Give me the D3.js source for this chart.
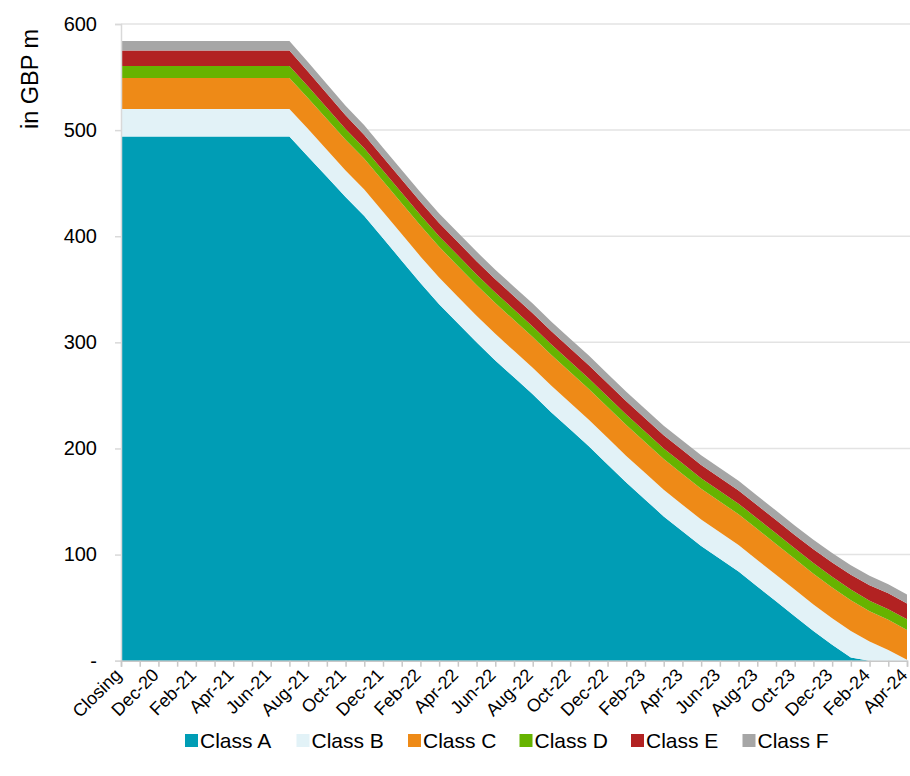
<!DOCTYPE html>
<html>
<head>
<meta charset="utf-8">
<script src="https://cdnjs.cloudflare.com/ajax/libs/d3/7.8.5/d3.min.js"></script>
<style>
  body { margin: 0; background: #fff; }
  text { font-family: "Liberation Sans", Arial, sans-serif; fill: #000; }
</style>
</head>
<body>
<svg id="chart" width="910" height="776"></svg>
<script>
////////////////////////////////////////////////////////////
// DATA
////////////////////////////////////////////////////////////
var categories = ['Closing', 'Nov-20', 'Dec-20', 'Jan-21', 'Feb-21', 'Mar-21', 'Apr-21', 'May-21',
  'Jun-21', 'Jul-21', 'Aug-21', 'Sep-21', 'Oct-21', 'Nov-21', 'Dec-21', 'Jan-22', 'Feb-22',
  'Mar-22', 'Apr-22', 'May-22', 'Jun-22', 'Jul-22', 'Aug-22', 'Sep-22', 'Oct-22', 'Nov-22',
  'Dec-22', 'Jan-23', 'Feb-23', 'Mar-23', 'Apr-23', 'May-23', 'Jun-23', 'Jul-23', 'Aug-23',
  'Sep-23', 'Oct-23', 'Nov-23', 'Dec-23', 'Jan-24', 'Feb-24', 'Mar-24', 'Apr-24'];

var classA = [494, 494, 494, 494, 494, 494, 494, 494, 494, 494,
  475, 456, 437, 419, 398, 377, 356, 336, 318, 300, 283, 267, 251, 234, 218, 202,
  185, 168, 152, 136, 122, 108, 96, 84, 70, 56, 42, 28, 15, 3, 0, 0, 0];
var classB = [26, 26, 26, 26, 26, 26, 26, 26, 26, 26,
  26, 25.5, 25, 25, 25, 25, 25, 25, 25, 25, 25, 25, 25, 25, 25, 25,
  25, 25, 25, 25, 25, 25, 25, 25, 25, 25, 25, 25, 25, 25, 18, 10, 1];
var classC = [29, 29, 29, 29, 29, 29, 29, 29, 29, 29,
  29, 29, 29, 29, 29, 29, 29, 29, 29, 29, 29, 29, 29, 29, 29, 29,
  29, 29, 29, 29, 29, 29, 29, 29, 29, 29, 29, 29, 29, 29, 28.5, 28.5, 28];
var classD = [11.5, 11.5, 11.5, 11.5, 11.5, 11.5, 11.5, 11.5, 11.5, 11.5,
  11, 10.5, 10, 10, 10, 10, 10, 10, 10, 10, 10, 10, 10, 10, 10, 10,
  10, 10, 10, 10, 10, 10, 10, 10, 10, 10, 10, 10, 10, 10, 10, 10, 10];
var classE = [14.5, 14.5, 14.5, 14.5, 14.5, 14.5, 14.5, 14.5, 14.5, 14.5,
  14, 13.5, 13, 12.5, 12.5, 12.5, 12.5, 12.5, 12.5, 12.5, 12.5, 12.5, 12.5, 12.5, 12.5, 12.5,
  12.5, 12.5, 12.5, 12.5, 12.5, 12.5, 12.5, 12.5, 12.5, 12.5, 12.5, 13, 13.5, 14, 14.5, 15, 15];
var classF = [9, 9, 9, 9, 9, 9, 9, 9, 9, 9,
  9, 9, 9, 9, 9, 9, 9, 9, 9, 9, 9, 9, 9, 9, 9, 9,
  9, 9, 9, 9, 9, 9, 9, 9, 9, 9, 9, 9, 9, 9, 9, 8.5, 8.5];

var seriesNames = ['Class A', 'Class B', 'Class C', 'Class D', 'Class E', 'Class F'];
var seriesColors = ['#009db5', '#e2f2f7', '#ee8a17', '#66b300', '#b22222', '#a6a6a6'];
var yTicks = [0, 100, 200, 300, 400, 500, 600];

////////////////////////////////////////////////////////////
// DRAW
////////////////////////////////////////////////////////////
make_area_chart();

function make_area_chart() {
    var svg = d3.select('#chart');
    var left = 121, right = 907, top = 24, bottom = 660.7;

    var x = d3.scaleLinear().domain([0, categories.length - 1]).range([left, right]);
    var y = d3.scaleLinear().domain([0, 600]).range([bottom, top]);

    // one row per date, keyed by series name
    var rows = categories.map(function(c, i) {
        return {
            'Class A': classA[i], 'Class B': classB[i], 'Class C': classC[i],
            'Class D': classD[i], 'Class E': classE[i], 'Class F': classF[i]
        };
    });
    var stacked = d3.stack().keys(seriesNames)(rows);

    // horizontal gridlines
    svg.append('g')
        .selectAll('line')
        .data(yTicks.slice(1))
        .enter().append('line')
        .attr('x1', left).attr('x2', 910)
        .attr('y1', function(d) { return y(d); })
        .attr('y2', function(d) { return y(d); })
        .attr('stroke', '#e3e3e3')
        .attr('stroke-width', 1.5);

    // stacked areas
    var area = d3.area()
        .x(function(d, i) { return x(i); })
        .y0(function(d) { return y(d[0]); })
        .y1(function(d) { return y(d[1]); });
    svg.append('g')
        .selectAll('path')
        .data(stacked)
        .enter().append('path')
        .attr('fill', function(d, i) { return seriesColors[i]; })
        .attr('d', area);

    // y axis
    var yAxis = d3.axisLeft(y)
        .tickValues(yTicks)
        .tickSize(6)
        .tickPadding(18)
        .tickFormat(function(d) { return d === 0 ? '-' : d; });
    var gy = svg.append('g')
        .attr('transform', 'translate(' + left + ',0)')
        .call(yAxis);
    gy.select('.domain').attr('stroke', '#d9d9d9').attr('stroke-width', 1.5);
    gy.selectAll('.tick line').attr('stroke', '#d9d9d9').attr('stroke-width', 1.5);
    gy.selectAll('.tick text')
        .style('font-size', '20px')
        .attr('fill', '#000');

    // x axis (category ticks)
    var xAxis = d3.axisBottom(x)
        .tickValues(d3.range(categories.length))
        .tickSize(6)
        .tickFormat('');
    var gx = svg.append('g')
        .attr('transform', 'translate(0,' + bottom + ')')
        .call(xAxis);
    gx.select('.domain').attr('stroke', '#c8c8c8').attr('stroke-width', 1.5);
    gx.selectAll('.tick line').attr('stroke', '#c8c8c8').attr('stroke-width', 1.5);

    // rotated labels on every other category
    svg.append('g')
        .selectAll('text')
        .data(categories.filter(function(c, i) { return i % 2 === 0; }))
        .enter().append('text')
        .attr('transform', function(d, i) {
            return 'translate(' + (x(i * 2) - 3) + ',' + (bottom + 11) + ') rotate(-45)';
        })
        .attr('text-anchor', 'end')
        .attr('dy', '0.35em')
        .style('font-size', '18px')
        .text(function(d) { return d; });

    // y title
    svg.append('text')
        .attr('transform', 'translate(38,79) rotate(-90)')
        .attr('text-anchor', 'middle')
        .style('font-size', '23.5px')
        .text('in GBP m');

    // legend
    var legend = svg.append('g')
        .selectAll('g')
        .data(seriesNames)
        .enter().append('g')
        .attr('transform', function(d, i) { return 'translate(' + (185 + i * 111.5) + ',734)'; });
    legend.append('rect')
        .attr('width', 13).attr('height', 13)
        .attr('fill', function(d, i) { return seriesColors[i]; });
    legend.append('text')
        .attr('x', 15)
        .attr('y', 14)
        .style('font-size', '21px')
        .text(function(d) { return d; });
}
</script>
</body>
</html>
